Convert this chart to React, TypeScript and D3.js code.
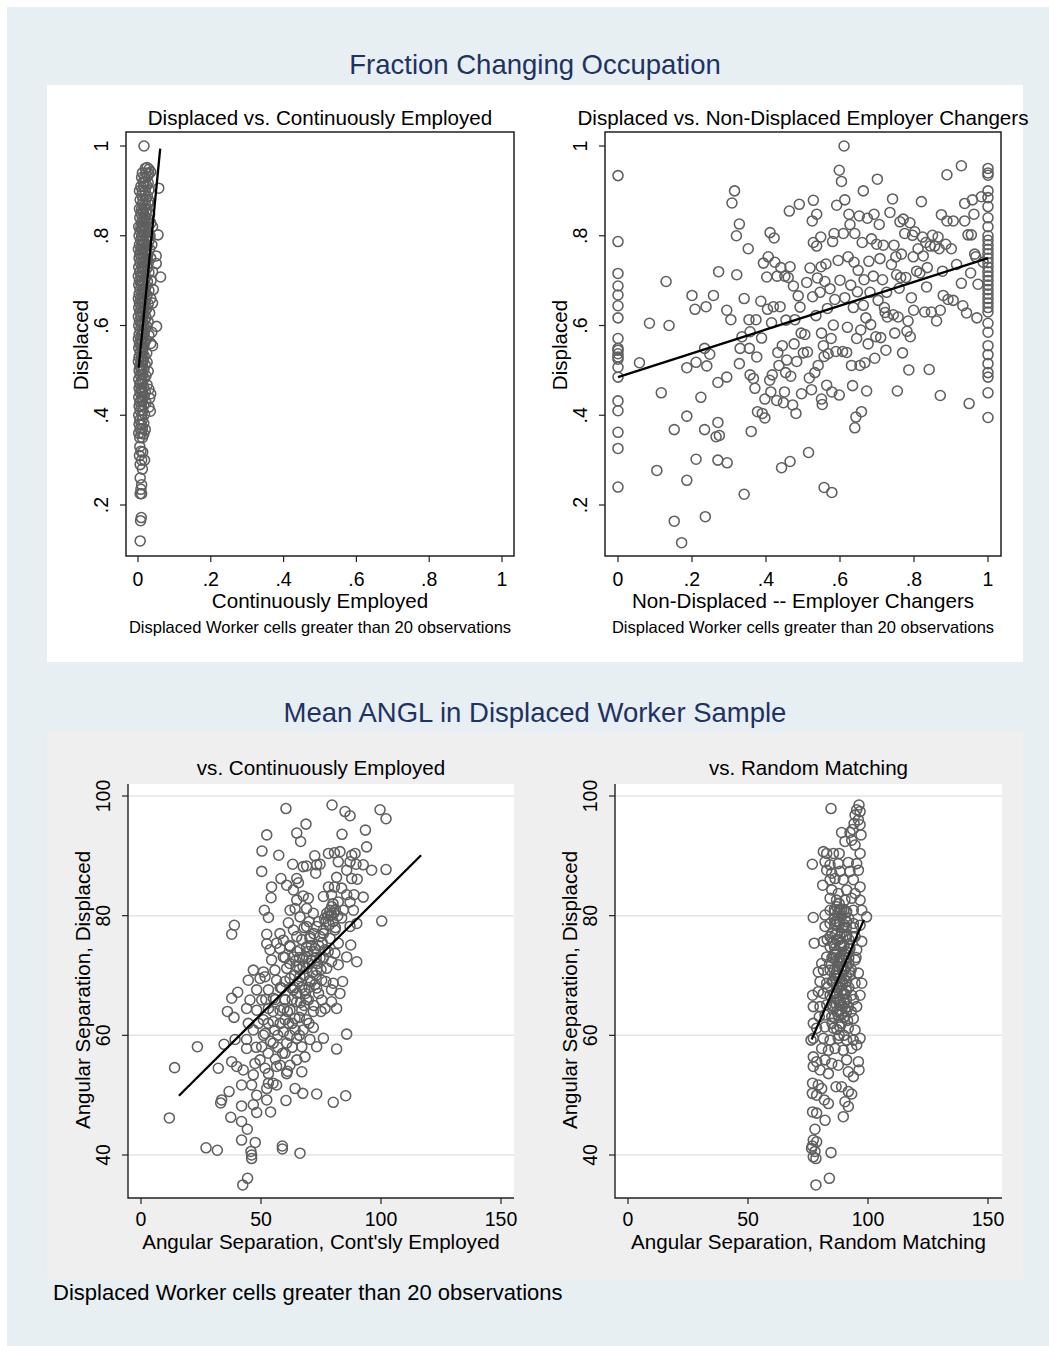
import React from 'react';
import * as d3 from 'd3';

const W = 1049;
const H = 1346;
const font = '"Liberation Sans", Arial, Helvetica, sans-serif';
const navy = '#1e3264';
const markerColor = '#5f5f5f';

// tick values / labels
const fracTicks = [0, 0.2, 0.4, 0.6, 0.8, 1];
const fracTickLabels = ['0', '.2', '.4', '.6', '.8', '1'];
const fracYTicks = [0.2, 0.4, 0.6, 0.8, 1];
const fracYTickLabels = ['.2', '.4', '.6', '.8', '1'];
const anglXTicks = [0, 50, 100, 150];
const anglYTicks = [40, 60, 80, 100];

// Displaced vs. Continuously Employed (fraction changing occupation)
const p1Points: [number, number][] = [
  [0.0165, 1.0], [0.057, 0.906],
  [0.02, 0.95], [0.025, 0.952], [0.03, 0.948],
  [0.012, 0.94], [0.022, 0.94], [0.03, 0.938], [0.035, 0.942],
  [0.01, 0.93], [0.018, 0.93], [0.026, 0.932],
  [0.015, 0.92], [0.02, 0.92], [0.028, 0.918],
  [0.008, 0.91], [0.016, 0.91], [0.024, 0.912],
  [0.004, 0.9], [0.012, 0.9], [0.02, 0.9], [0.03, 0.902],
  [0.01, 0.89], [0.018, 0.89], [0.026, 0.888],
  [0.006, 0.88], [0.014, 0.88], [0.022, 0.882], [0.03, 0.878],
  [0.012, 0.87], [0.02, 0.87], [0.028, 0.872],
  [0.004, 0.86], [0.01, 0.86], [0.018, 0.862], [0.025, 0.858],
  [0.008, 0.85], [0.015, 0.85], [0.022, 0.852], [0.032, 0.848],
  [0.005, 0.84], [0.012, 0.84], [0.02, 0.842], [0.027, 0.838],
  [0.01, 0.83], [0.017, 0.83], [0.024, 0.832], [0.035, 0.828],
  [0.002, 0.82], [0.008, 0.82], [0.015, 0.822], [0.022, 0.818], [0.04, 0.82],
  [0.006, 0.81], [0.013, 0.81], [0.02, 0.812], [0.028, 0.808],
  [0.003, 0.8], [0.01, 0.8], [0.017, 0.802], [0.024, 0.798], [0.033, 0.8], [0.055, 0.802],
  [0.007, 0.79], [0.014, 0.79], [0.021, 0.792], [0.03, 0.788],
  [0.004, 0.78], [0.011, 0.78], [0.018, 0.782], [0.026, 0.778], [0.038, 0.78],
  [0.001, 0.77], [0.008, 0.77], [0.015, 0.772], [0.022, 0.768], [0.032, 0.77],
  [0.005, 0.76], [0.012, 0.76], [0.019, 0.762], [0.027, 0.758], [0.05, 0.755],
  [0.003, 0.75], [0.009, 0.75], [0.016, 0.752], [0.024, 0.748], [0.035, 0.75],
  [0.006, 0.74], [0.013, 0.74], [0.02, 0.742], [0.028, 0.738], [0.05, 0.738],
  [0.002, 0.73], [0.01, 0.73], [0.017, 0.732], [0.025, 0.728],
  [0.005, 0.72], [0.012, 0.72], [0.019, 0.722], [0.03, 0.718], [0.04, 0.72],
  [0.001, 0.71], [0.008, 0.71], [0.015, 0.712], [0.022, 0.708], [0.062, 0.708],
  [0.004, 0.7], [0.011, 0.7], [0.018, 0.702], [0.026, 0.698], [0.036, 0.7],
  [0.002, 0.69], [0.009, 0.69], [0.016, 0.692], [0.023, 0.688],
  [0.006, 0.68], [0.013, 0.68], [0.02, 0.682], [0.03, 0.678], [0.042, 0.68],
  [0.003, 0.67], [0.01, 0.67], [0.017, 0.672], [0.025, 0.668],
  [0.001, 0.66], [0.007, 0.66], [0.014, 0.662], [0.021, 0.658], [0.035, 0.66],
  [0.004, 0.65], [0.011, 0.65], [0.018, 0.652], [0.028, 0.648], [0.04, 0.65],
  [0.002, 0.64], [0.009, 0.64], [0.016, 0.642], [0.024, 0.638],
  [0.005, 0.63], [0.012, 0.63], [0.02, 0.632], [0.032, 0.628],
  [0.001, 0.62], [0.008, 0.62], [0.015, 0.622], [0.022, 0.618],
  [0.004, 0.61], [0.011, 0.61], [0.018, 0.612], [0.028, 0.608],
  [0.002, 0.6], [0.009, 0.6], [0.016, 0.602], [0.024, 0.598], [0.051, 0.598],
  [0.006, 0.59], [0.013, 0.59], [0.02, 0.592], [0.038, 0.585],
  [0.003, 0.58], [0.01, 0.58], [0.017, 0.582], [0.03, 0.578],
  [0.001, 0.57], [0.007, 0.57], [0.014, 0.572], [0.022, 0.568],
  [0.004, 0.56], [0.011, 0.56], [0.018, 0.562], [0.035, 0.56],
  [0.002, 0.55], [0.009, 0.55], [0.016, 0.552], [0.04, 0.555],
  [0.006, 0.54], [0.013, 0.54], [0.024, 0.538],
  [0.003, 0.53], [0.01, 0.53], [0.017, 0.532],
  [0.001, 0.52], [0.008, 0.52], [0.015, 0.522], [0.025, 0.518],
  [0.005, 0.51], [0.012, 0.51], [0.02, 0.512],
  [0.003, 0.5], [0.009, 0.5], [0.016, 0.502], [0.028, 0.498],
  [0.006, 0.49], [0.013, 0.49], [0.022, 0.488],
  [0.002, 0.48], [0.01, 0.48], [0.017, 0.482],
  [0.005, 0.47], [0.012, 0.47], [0.025, 0.468],
  [0.003, 0.46], [0.009, 0.46], [0.016, 0.462], [0.03, 0.458],
  [0.006, 0.45], [0.013, 0.45], [0.02, 0.452], [0.035, 0.448],
  [0.002, 0.44], [0.01, 0.44], [0.017, 0.442], [0.032, 0.438],
  [0.005, 0.43], [0.012, 0.43], [0.022, 0.428],
  [0.003, 0.42], [0.009, 0.42], [0.016, 0.422], [0.03, 0.418],
  [0.006, 0.41], [0.013, 0.41], [0.034, 0.409],
  [0.002, 0.4], [0.01, 0.4], [0.018, 0.402],
  [0.005, 0.39], [0.012, 0.39],
  [0.003, 0.38], [0.009, 0.38], [0.016, 0.382],
  [0.006, 0.37], [0.012, 0.37], [0.02, 0.368],
  [0.002, 0.36], [0.009, 0.36], [0.016, 0.358],
  [0.005, 0.35], [0.012, 0.35],
  [0.005, 0.33], [0.008, 0.32], [0.013, 0.318], [0.004, 0.31],
  [0.01, 0.3], [0.018, 0.3], [0.006, 0.29], [0.012, 0.28],
  [0.006, 0.26], [0.01, 0.245], [0.008, 0.235], [0.006, 0.225], [0.01, 0.225],
  [0.009, 0.172], [0.007, 0.165], [0.006, 0.12],
  [0.014, 0.855], [0.019, 0.835], [0.011, 0.815], [0.016, 0.785], [0.013, 0.765],
  [0.02, 0.745], [0.014, 0.725], [0.012, 0.695], [0.019, 0.675], [0.013, 0.655],
  [0.015, 0.635], [0.012, 0.605], [0.014, 0.585], [0.01, 0.565], [0.012, 0.545],
  [0.013, 0.525], [0.009, 0.505], [0.011, 0.475], [0.009, 0.455], [0.011, 0.435],
];
const p1Fit: [number, number][] = [[0.002, 0.506], [0.061, 0.994]];

// Displaced vs. Non-Displaced Employer Changers
const p2Points: [number, number][] = [
  [0, 0.934], [0, 0.787], [0, 0.716], [0, 0.688], [0, 0.668], [0, 0.644], [0, 0.617],
  [0, 0.571], [0, 0.549], [0, 0.537], [0, 0.525], [0, 0.507], [0, 0.485], [0, 0.432],
  [0, 0.41], [0, 0.362], [0, 0.326], [0, 0.24], [0, 0.545], [0, 0.53],
  [1, 0.95], [1, 0.94], [1, 0.935], [1, 0.9], [1, 0.885], [1, 0.865], [1, 0.84], [1, 0.82],
  [1, 0.8], [1, 0.79], [1, 0.78], [1, 0.77], [1, 0.76], [1, 0.75], [1, 0.74], [1, 0.73],
  [1, 0.72], [1, 0.71], [1, 0.7], [1, 0.69], [1, 0.68], [1, 0.67], [1, 0.66], [1, 0.65],
  [1, 0.64], [1, 0.63], [1, 0.605], [1, 0.585], [1, 0.555], [1, 0.535], [1, 0.515],
  [1, 0.495], [1, 0.485], [1, 0.45], [1, 0.395],
  [0.085, 0.605], [0.058, 0.517], [0.13, 0.698], [0.138, 0.6], [0.117, 0.45], [0.105, 0.277],
  [0.152, 0.368], [0.152, 0.164], [0.172, 0.116], [0.186, 0.255], [0.186, 0.398], [0.186, 0.506],
  [0.2, 0.667], [0.208, 0.636], [0.211, 0.518], [0.211, 0.302], [0.224, 0.44], [0.234, 0.368],
  [0.236, 0.174], [0.234, 0.549], [0.24, 0.51], [0.248, 0.536], [0.238, 0.642], [0.258, 0.667],
  [0.272, 0.72], [0.27, 0.384], [0.265, 0.352], [0.274, 0.355], [0.27, 0.3], [0.27, 0.473],
  [0.294, 0.485], [0.295, 0.294], [0.294, 0.634], [0.305, 0.613], [0.315, 0.9], [0.308, 0.873],
  [0.32, 0.8], [0.328, 0.826], [0.321, 0.713], [0.328, 0.515], [0.33, 0.549], [0.335, 0.575],
  [0.341, 0.66], [0.341, 0.224], [0.352, 0.771], [0.354, 0.613], [0.357, 0.586], [0.355, 0.549],
  [0.357, 0.49], [0.36, 0.364], [0.366, 0.482], [0.37, 0.46], [0.373, 0.613], [0.375, 0.53],
  [0.377, 0.408], [0.388, 0.572], [0.386, 0.654], [0.39, 0.404], [0.393, 0.739], [0.402, 0.708],
  [0.397, 0.436], [0.397, 0.394], [0.404, 0.636], [0.406, 0.753], [0.41, 0.478], [0.411, 0.807],
  [0.413, 0.452], [0.415, 0.606], [0.417, 0.49], [0.422, 0.795], [0.42, 0.642], [0.424, 0.741],
  [0.429, 0.433], [0.43, 0.71], [0.432, 0.54], [0.435, 0.511], [0.438, 0.642], [0.44, 0.729],
  [0.442, 0.283], [0.444, 0.555], [0.447, 0.428], [0.45, 0.452], [0.451, 0.71], [0.453, 0.495],
  [0.454, 0.612], [0.456, 0.523], [0.46, 0.707], [0.463, 0.855], [0.465, 0.297], [0.465, 0.731],
  [0.467, 0.487], [0.472, 0.423], [0.474, 0.688], [0.476, 0.559], [0.478, 0.613], [0.481, 0.404],
  [0.483, 0.52], [0.487, 0.666], [0.49, 0.87], [0.492, 0.641], [0.495, 0.583], [0.496, 0.448],
  [0.501, 0.539], [0.505, 0.58], [0.51, 0.696], [0.512, 0.541], [0.515, 0.317], [0.517, 0.483],
  [0.519, 0.728], [0.523, 0.457], [0.525, 0.833], [0.528, 0.879], [0.526, 0.664], [0.528, 0.785],
  [0.532, 0.495], [0.535, 0.622], [0.537, 0.848], [0.537, 0.777], [0.539, 0.706], [0.541, 0.511],
  [0.546, 0.674], [0.548, 0.797], [0.549, 0.731], [0.55, 0.436], [0.55, 0.583], [0.552, 0.424],
  [0.555, 0.555], [0.557, 0.531], [0.557, 0.239], [0.559, 0.698], [0.562, 0.737], [0.564, 0.467],
  [0.566, 0.638], [0.568, 0.537], [0.573, 0.682], [0.576, 0.571], [0.578, 0.228], [0.578, 0.452],
  [0.58, 0.787], [0.582, 0.601], [0.584, 0.805], [0.586, 0.658], [0.589, 0.542], [0.591, 0.868],
  [0.595, 0.745], [0.598, 0.445], [0.598, 0.946], [0.6, 0.701], [0.604, 0.921], [0.607, 0.542],
  [0.609, 0.805], [0.611, 1.0], [0.613, 0.88], [0.613, 0.662], [0.618, 0.54], [0.62, 0.596],
  [0.622, 0.753], [0.624, 0.848], [0.627, 0.825], [0.629, 0.69], [0.631, 0.511], [0.634, 0.466],
  [0.636, 0.64], [0.638, 0.741], [0.64, 0.372], [0.64, 0.805], [0.643, 0.396], [0.645, 0.571],
  [0.647, 0.675], [0.649, 0.723], [0.652, 0.844], [0.654, 0.511], [0.656, 0.59], [0.658, 0.408],
  [0.66, 0.785], [0.663, 0.9], [0.663, 0.645], [0.665, 0.702], [0.667, 0.517], [0.67, 0.617],
  [0.672, 0.454], [0.674, 0.839], [0.676, 0.559], [0.678, 0.743], [0.681, 0.674], [0.683, 0.602],
  [0.685, 0.793], [0.69, 0.71], [0.692, 0.848], [0.694, 0.527], [0.697, 0.575], [0.699, 0.781],
  [0.701, 0.926], [0.703, 0.656], [0.706, 0.825], [0.708, 0.749], [0.71, 0.573], [0.715, 0.702],
  [0.717, 0.779], [0.72, 0.64], [0.722, 0.629], [0.724, 0.545], [0.726, 0.674], [0.728, 0.619],
  [0.735, 0.852], [0.739, 0.736], [0.742, 0.882], [0.744, 0.624], [0.746, 0.779], [0.748, 0.583],
  [0.751, 0.753], [0.753, 0.713], [0.755, 0.454], [0.757, 0.619], [0.76, 0.683], [0.762, 0.831],
  [0.764, 0.707], [0.766, 0.759], [0.769, 0.539], [0.771, 0.837], [0.775, 0.805], [0.778, 0.707],
  [0.781, 0.587], [0.784, 0.61], [0.786, 0.501], [0.789, 0.829], [0.79, 0.575], [0.793, 0.662],
  [0.796, 0.801], [0.798, 0.753], [0.799, 0.634], [0.802, 0.809], [0.807, 0.721], [0.811, 0.771],
  [0.816, 0.717], [0.82, 0.876], [0.823, 0.797], [0.825, 0.755], [0.829, 0.63], [0.832, 0.785],
  [0.834, 0.686], [0.836, 0.729], [0.841, 0.502], [0.844, 0.777], [0.847, 0.63], [0.85, 0.801],
  [0.856, 0.777], [0.861, 0.61], [0.865, 0.797], [0.868, 0.771], [0.871, 0.444], [0.871, 0.634],
  [0.874, 0.847], [0.877, 0.721], [0.879, 0.667], [0.886, 0.781], [0.889, 0.936], [0.892, 0.658],
  [0.889, 0.833], [0.901, 0.771], [0.906, 0.833], [0.906, 0.656], [0.915, 0.736], [0.928, 0.956],
  [0.928, 0.694], [0.932, 0.644], [0.937, 0.872], [0.937, 0.833], [0.942, 0.628], [0.946, 0.802],
  [0.949, 0.426], [0.953, 0.717], [0.955, 0.802], [0.958, 0.88], [0.962, 0.848], [0.964, 0.759],
  [0.967, 0.753], [0.97, 0.617], [0.973, 0.692], [0.982, 0.887], [0.987, 0.741],
];
const p2Fit: [number, number][] = [[0, 0.485], [1, 0.75]];

// Mean ANGL vs. Continuously Employed
const p3Points: [number, number][] = [
  [60.4, 97.9], [79.6, 98.5], [85.0, 97.4], [87.1, 96.7], [99.6, 97.7], [102.1, 96.2],
  [68.75, 95.3], [64.9, 93.8], [66.5, 92.4], [52.4, 93.5], [83.75, 93.6], [93.5, 94.3],
  [94.0, 91.5], [50.4, 90.8], [57.4, 90.1], [72.4, 90.0], [78.1, 90.4], [80.6, 90.5],
  [82.9, 90.7], [87.8, 90.1], [89.2, 90.4], [63.2, 88.6], [67.6, 88.2], [69.0, 88.3],
  [73.2, 88.5], [74.6, 88.6], [82.2, 89.0], [87.1, 89.0], [89.6, 88.6], [92.6, 88.5],
  [96.1, 87.6], [102.1, 87.7], [50.3, 87.4], [72.8, 87.1], [85.7, 87.6], [58.3, 86.2],
  [64.9, 86.2], [65.6, 85.5], [81.5, 86.4], [87.8, 86.2], [90.1, 86.1], [60.7, 85.1],
  [54.4, 84.8], [78.1, 84.8], [80.6, 84.8], [83.6, 84.6], [63.5, 84.3], [67.6, 83.3],
  [76.0, 83.2], [79.4, 83.5], [85.7, 83.5], [88.75, 83.5], [92.6, 83.1], [54.2, 83.0],
  [64.9, 82.6], [69.75, 82.9], [82.2, 82.3], [87.1, 82.3], [51.4, 80.9], [53.1, 79.7],
  [62.1, 80.9], [64.2, 81.2], [69.0, 81.2], [78.75, 80.9], [77.4, 80.4], [79.4, 80.1],
  [84.3, 80.9], [88.5, 80.9], [66.25, 79.8], [71.8, 80.4], [83.6, 79.6], [89.9, 78.7],
  [100.3, 79.1], [38.9, 78.4], [37.8, 76.9], [52.4, 76.9], [61.4, 78.8], [57.9, 77.0],
  [63.5, 77.6], [69.0, 78.2], [73.2, 78.2], [76.0, 77.6], [80.8, 77.6], [87.1, 78.2],
  [52.4, 75.3], [56.5, 75.4], [59.3, 75.9], [64.9, 76.5], [70.4, 76.2], [74.6, 76.5],
  [78.75, 76.2], [82.2, 75.4], [87.4, 75.1], [53.75, 74.3], [57.9, 74.5], [62.1, 74.8],
  [66.25, 74.3], [69.0, 74.8], [72.5, 74.5], [76.7, 74.3], [80.8, 73.7], [85.7, 73.1],
  [89.9, 72.3], [54.4, 72.6], [59.3, 73.1], [63.5, 73.1], [67.6, 72.9], [71.1, 72.6],
  [74.6, 72.9], [79.4, 72.3], [82.2, 71.8], [46.8, 70.9], [51.0, 70.6], [55.8, 70.9],
  [60.7, 71.2], [64.9, 71.5], [69.0, 71.2], [73.2, 70.9], [77.4, 71.2], [44.7, 69.2],
  [49.6, 69.5], [51.7, 69.8], [56.5, 69.2], [62.1, 69.5], [66.25, 69.8], [70.4, 69.2],
  [75.3, 69.2], [80.1, 68.7], [84.0, 69.0], [48.2, 67.6], [53.1, 67.6], [58.6, 67.9],
  [63.5, 67.6], [68.3, 67.6], [73.2, 67.9], [79.4, 67.6], [82.9, 67.0], [40.3, 67.2],
  [37.8, 66.2], [45.4, 65.9], [50.3, 65.9], [55.1, 66.2], [60.0, 65.9], [64.9, 65.6],
  [69.75, 65.9], [75.3, 65.9], [79.4, 65.6], [44.0, 64.5], [48.2, 64.2], [53.1, 64.5],
  [57.9, 64.2], [62.1, 64.2], [67.0, 64.2], [71.8, 64.0], [76.7, 64.5], [81.5, 64.5],
  [36.0, 64.0], [38.75, 63.0], [44.7, 62.0], [51.0, 62.6], [55.1, 62.3], [60.0, 62.6],
  [64.2, 62.8], [69.0, 62.6], [71.8, 61.3], [85.7, 60.2], [46.8, 60.9], [51.7, 60.3],
  [55.8, 60.9], [59.3, 60.6], [64.2, 60.9], [67.6, 60.9], [76.0, 59.5], [23.5, 58.1],
  [34.6, 58.5], [39.2, 59.3], [44.0, 59.3], [50.3, 58.1], [55.1, 58.7], [60.7, 58.7],
  [64.9, 59.5], [67.0, 58.1], [70.4, 59.3], [73.2, 58.1], [81.5, 57.7], [44.0, 57.8],
  [14.0, 54.6], [32.2, 54.5], [37.8, 55.6], [39.9, 54.8], [42.6, 54.2], [47.5, 55.3],
  [49.6, 55.9], [51.7, 54.5], [53.1, 53.6], [56.5, 54.8], [60.0, 57.0], [60.7, 53.6],
  [62.1, 55.0], [64.9, 55.9], [68.3, 56.4], [67.0, 53.9], [46.8, 53.4], [41.9, 51.7],
  [46.1, 51.7], [53.1, 52.0], [56.5, 51.7], [52.4, 51.1], [36.7, 50.6], [33.6, 49.2],
  [33.2, 48.7], [48.2, 50.0], [64.2, 51.1], [67.4, 50.3], [73.2, 50.2], [85.3, 49.9],
  [80.1, 48.8], [41.9, 48.2], [46.8, 48.4], [52.4, 49.2], [60.4, 49.1], [48.2, 47.1],
  [54.0, 47.2], [11.8, 46.2], [37.4, 46.3], [41.9, 45.6], [44.3, 44.3], [41.9, 42.5],
  [47.6, 42.1], [27.1, 41.2], [31.8, 40.8], [45.8, 40.6], [46.1, 40.0], [46.1, 39.4],
  [58.9, 41.5], [58.9, 41.0], [66.25, 40.3], [44.4, 36.1], [42.4, 35.0],
  [62, 72], [66, 73], [68, 70], [70, 72], [72, 74], [74, 75], [67, 76], [64, 70], [70, 68],
  [73, 70], [76, 73], [78, 74], [65, 67], [69, 66], [71, 69], [75, 71], [60, 69], [63, 66],
  [66, 63], [68, 65], [61, 64], [58, 62], [62, 60], [57, 60], [59, 57], [56, 56], [54, 59],
  [63, 58], [80, 79], [79, 80], [81, 81], [78, 80], [82, 80], [80, 82], [77, 79], [81, 78],
  [68, 78], [70, 79], [72, 77], [74, 79], [76, 77], [71, 75], [73, 73], [65, 74], [60, 73],
  [62, 75], [66, 71], [69, 73], [58, 68], [56, 66], [52, 66], [55, 64], [60, 66], [64, 68],
  [67, 68], [74, 67], [77, 69], [72, 65], [75, 64], [70, 62], [66, 60], [63, 62], [57, 58],
  [53, 57], [55, 52], [58, 55], [61, 54], [49, 62], [51, 60], [48, 58], [53, 62],
  [67.5, 71.5], [69.5, 74], [71.5, 70.5], [73.5, 72], [65.5, 69], [68.5, 67], [72.5, 68.5],
  [75.5, 75.5], [70.5, 76.5], [66.5, 65.5], [62.5, 68], [64.5, 72.5], [61.5, 62], [59.5, 64.5],
  [79.5, 81.5], [80.5, 80.5], [78.5, 78.5], [76.5, 79.5],
];
const p3Fit: [number, number][] = [[15.8, 49.9], [116.7, 90.1]];

// Mean ANGL vs. Random Matching
const p4Points: [number, number][] = [
  [84.6, 97.9], [96.25, 98.5], [95.3, 97.7], [96.7, 97.4], [94.6, 96.8], [96.0, 96.0],
  [94.2, 95.4], [96.7, 95.2], [93.6, 94.4], [89.0, 93.9], [92.5, 93.9], [97.1, 93.5],
  [90.4, 92.4], [93.2, 92.6], [94.6, 91.8], [81.4, 90.7], [82.8, 90.4], [85.6, 90.4],
  [88.0, 90.4], [96.7, 90.4], [76.8, 88.6], [82.1, 89.0], [84.2, 88.5], [87.6, 88.7],
  [91.8, 88.9], [95.3, 88.7], [82.8, 87.6], [84.9, 87.1], [88.3, 87.4], [92.5, 87.4],
  [96.0, 87.6], [81.1, 85.1], [84.2, 86.0], [86.25, 86.2], [89.7, 86.0], [93.9, 86.0],
  [96.7, 84.8], [84.9, 84.3], [87.6, 83.7], [91.1, 84.3], [94.6, 83.7], [84.2, 82.9],
  [86.9, 82.6], [90.4, 82.6], [93.2, 82.9], [96.7, 82.6], [77.2, 79.7], [82.1, 80.1],
  [84.2, 80.9], [86.25, 80.7], [88.3, 80.9], [91.1, 80.7], [93.9, 80.9], [97.4, 80.9],
  [99.4, 79.8], [82.1, 78.2], [84.2, 78.7], [86.25, 79.0], [88.3, 78.7], [91.1, 79.0],
  [93.9, 78.7], [96.7, 78.4], [77.6, 75.4], [81.4, 75.7], [84.2, 76.5], [86.25, 76.8],
  [88.3, 76.5], [91.1, 76.8], [94.6, 76.5], [97.4, 75.7], [84.2, 74.8], [86.25, 74.5],
  [89.0, 74.8], [91.8, 74.5], [95.3, 74.3], [80.7, 72.0], [82.8, 73.1], [85.6, 72.9],
  [88.3, 72.6], [91.1, 72.9], [94.6, 72.6], [79.3, 70.6], [81.4, 70.9], [84.2, 70.9],
  [86.9, 70.6], [89.7, 70.9], [92.5, 70.6], [96.0, 70.4], [80.0, 69.0], [82.8, 68.7],
  [85.6, 69.0], [88.3, 68.7], [91.1, 69.0], [94.6, 68.7], [97.4, 68.7], [76.9, 66.7],
  [79.3, 67.3], [81.4, 67.0], [84.2, 66.7], [86.9, 67.0], [90.4, 66.9], [93.2, 66.7],
  [96.7, 66.7], [77.2, 64.8], [80.0, 64.8], [82.8, 65.1], [85.6, 64.8], [88.3, 65.1],
  [91.8, 64.8], [95.3, 64.8], [79.7, 63.1], [82.1, 63.4], [84.9, 63.1], [87.6, 63.4],
  [90.4, 63.1], [93.9, 62.8], [77.2, 62.0], [78.6, 61.2], [82.1, 61.4], [85.6, 61.2],
  [88.3, 61.4], [91.8, 61.2], [94.6, 60.9], [76.25, 59.2], [77.2, 59.5], [81.4, 59.5],
  [84.2, 59.2], [87.6, 59.5], [91.1, 59.2], [93.9, 59.2], [96.7, 59.5], [80.7, 57.8],
  [83.5, 57.5], [86.25, 57.8], [89.7, 57.5], [93.2, 57.8], [95.3, 58.4], [77.2, 56.4],
  [78.6, 55.6], [82.1, 55.9], [84.9, 55.3], [87.6, 55.0], [91.1, 55.9], [96.0, 55.6],
  [77.2, 54.8], [80.0, 54.2], [83.5, 53.6], [91.8, 53.9], [93.9, 53.1], [96.25, 54.2],
  [76.9, 52.0], [79.3, 51.7], [80.7, 51.1], [86.7, 51.4], [89.0, 51.4], [91.8, 50.6],
  [93.2, 50.2], [76.8, 50.3], [78.6, 50.0], [81.8, 49.2], [83.5, 48.6], [90.4, 48.9],
  [91.8, 48.1], [76.9, 47.2], [78.6, 47.0], [82.1, 45.8], [89.7, 46.4], [77.9, 44.3],
  [77.2, 42.5], [78.6, 42.2], [76.5, 41.1], [77.9, 40.6], [77.2, 39.7], [78.3, 39.4],
  [84.6, 40.4], [83.9, 36.1], [78.3, 35.0], [76.8, 41.5],
  [86, 81], [88, 82], [90, 81], [87, 79], [89, 80], [91, 79], [85, 77], [87, 77], [89, 77],
  [91, 78], [86, 75], [88, 76], [90, 75], [92, 76], [85, 73], [87, 74], [89, 73], [91, 74],
  [86, 71], [88, 72], [90, 71], [92, 72], [85, 69], [87, 70], [89, 69], [91, 70], [86, 67],
  [88, 68], [90, 67], [92, 68], [85, 65], [87, 66], [89, 65], [91, 66], [86, 63], [88, 64],
  [90, 63], [87, 61], [89, 62], [85, 62], [88, 60], [90, 60], [93, 64], [93, 71], [94, 78],
  [84, 72], [83, 68], [83, 76], [95, 73], [94, 66],
  [87.5, 80.5], [89.5, 78], [88.5, 75], [90.5, 73.5], [87.5, 71.5], [89.5, 68.5], [88.5, 66],
  [90.5, 64.5], [86.5, 78.5], [92.5, 74.5], [86.5, 69.5], [91.5, 62.5],
  [87, 81.5], [89, 81], [91, 80.5], [86, 79.5], [88, 79], [90, 78.5], [92, 79.5], [87, 76],
  [89, 75.5], [91, 76.5], [86, 73.5], [88, 73], [90, 72.5], [92, 73], [87, 72.5], [89, 71.5],
  [91, 71.5], [86, 70], [88, 69.5], [90, 69.5], [87, 68], [89, 67.5], [91, 67.5], [86, 65.5],
  [88, 65.5], [90, 65.5], [87, 64], [89, 63.5], [91, 64], [85.5, 75.5], [92.5, 70], [93.5, 76.5],
];
const p4Fit: [number, number][] = [[76.5, 59.3], [98.3, 79.3]];

type PanelProps = {
  box: { x0: number; x1: number; y0: number; y1: number };
  x: d3.ScaleLinear<number, number>;
  y: d3.ScaleLinear<number, number>;
  xTicks: number[];
  xLabels: string[];
  yTicks: number[];
  yLabels: string[];
  points: [number, number][];
  fit: [number, number][];
  title: string;
  titleY: number;
  xTitle: string;
  yTitle: string;
  yTitleY: number;
  framed: boolean;
  grid: boolean;
  tickLabelY: number;
  xTitleY: number;
  note?: string;
};

const Panel = (p: PanelProps) => {
  const { box, x, y } = p;
  const cx = (box.x0 + box.x1) / 2;
  const line = d3.line<[number, number]>().x(d => x(d[0])).y(d => y(d[1]));
  const yLabelX = box.x0 - 18;
  return (
    <g>
      {p.grid && <rect x={box.x0} y={box.y0} width={box.x1 - box.x0} height={box.y1 - box.y0} fill="white" />}
      {p.grid && p.yTicks.map(t => (
        <line key={'g' + t} x1={box.x0} x2={box.x1} y1={y(t)} y2={y(t)} stroke="#e4e4e4" strokeWidth={1.5} />
      ))}
      {p.points.map((d, i) => (
        <circle key={i} cx={x(d[0])} cy={y(d[1])} r={5} fill="none" stroke={markerColor} strokeWidth={1.55} />
      ))}
      <path d={line(p.fit) || ''} stroke="black" strokeWidth={2.3} fill="none" />
      {p.framed ? (
        <rect x={box.x0} y={box.y0} width={box.x1 - box.x0} height={box.y1 - box.y0} fill="none" stroke="#111" strokeWidth={1.4} />
      ) : (
        <path d={`M${box.x0},${box.y0}V${box.y1}H${box.x1}`} fill="none" stroke="#222" strokeWidth={1.4} />
      )}
      {p.xTicks.map((t, i) => (
        <g key={'x' + t}>
          <line x1={x(t)} x2={x(t)} y1={box.y1} y2={box.y1 + 6} stroke="#222" strokeWidth={1.2} />
          <text x={x(t)} y={p.tickLabelY} textAnchor="middle" fontSize={19.5}>{p.xLabels[i]}</text>
        </g>
      ))}
      {p.yTicks.map((t, i) => (
        <g key={'y' + t}>
          <line x1={box.x0 - 6} x2={box.x0} y1={y(t)} y2={y(t)} stroke="#222" strokeWidth={1.2} />
          <text transform={`translate(${yLabelX},${y(t)}) rotate(-90)`} textAnchor="middle" fontSize={19.5}>{p.yLabels[i]}</text>
        </g>
      ))}
      <text x={cx} y={p.titleY} textAnchor="middle" fontSize={20.6}>{p.title}</text>
      <text x={cx} y={p.xTitleY} textAnchor="middle" fontSize={20.6}>{p.xTitle}</text>
      <text transform={`translate(${box.x0 - 38},${p.yTitleY}) rotate(-90)`} textAnchor="middle" fontSize={20.6}>{p.yTitle}</text>
      {p.note && <text x={cx} y={p.xTitleY + 25} textAnchor="middle" fontSize={16.5}>{p.note}</text>}
    </g>
  );
};

const App = () => {
  const x1 = d3.scaleLinear().domain([0, 1]).range([138, 502]);
  const x2 = d3.scaleLinear().domain([0, 1]).range([618, 988]);
  const yFrac = d3.scaleLinear().domain([0.2, 1]).range([505, 146]);
  const x3 = d3.scaleLinear().domain([0, 150]).range([141, 501]);
  const x4 = d3.scaleLinear().domain([0, 150]).range([628, 988]);
  const yAngl = d3.scaleLinear().domain([40, 100]).range([1155, 796]);
  const anglLabels = anglXTicks.map(String);
  const anglYLabels = anglYTicks.map(String);

  return (
    <svg width={W} height={H} style={{ position: 'absolute', left: 0, top: 0 }} fontFamily={font}>
      <rect x={0} y={0} width={W} height={H} fill="white" />
      <rect x={7} y={7} width={W - 7} height={H - 7} fill="#e8eff2" />
      <text x={535} y={74} textAnchor="middle" fontSize={27.5} fill={navy}>Fraction Changing Occupation</text>
      <rect x={47} y={85} width={976} height={577} fill="white" />
      <Panel box={{ x0: 126, x1: 514, y0: 132, y1: 556 }} x={x1} y={yFrac}
        xTicks={fracTicks} xLabels={fracTickLabels} yTicks={fracYTicks} yLabels={fracYTickLabels}
        points={p1Points} fit={p1Fit} title="Displaced vs. Continuously Employed" titleY={125}
        xTitle="Continuously Employed" yTitle="Displaced" yTitleY={345} framed grid={false}
        tickLabelY={586} xTitleY={608} note="Displaced Worker cells greater than 20 observations" />
      <Panel box={{ x0: 605, x1: 1001, y0: 132, y1: 556 }} x={x2} y={yFrac}
        xTicks={fracTicks} xLabels={fracTickLabels} yTicks={fracYTicks} yLabels={fracYTickLabels}
        points={p2Points} fit={p2Fit} title="Displaced vs. Non-Displaced Employer Changers" titleY={125}
        xTitle="Non-Displaced -- Employer Changers" yTitle="Displaced" yTitleY={345} framed grid={false}
        tickLabelY={586} xTitleY={608} note="Displaced Worker cells greater than 20 observations" />

      <text x={535} y={722} textAnchor="middle" fontSize={27.5} fill={navy}>Mean ANGL in Displaced Worker Sample</text>
      <rect x={47} y={733} width={976} height={546} fill="#efefef" />
      <Panel box={{ x0: 128, x1: 514, y0: 784, y1: 1198 }} x={x3} y={yAngl}
        xTicks={anglXTicks} xLabels={anglLabels} yTicks={anglYTicks} yLabels={anglYLabels}
        points={p3Points} fit={p3Fit} title="vs. Continuously Employed" titleY={775}
        xTitle="Angular Separation, Cont'sly Employed" yTitle="Angular Separation, Displaced" yTitleY={990}
        framed={false} grid tickLabelY={1226} xTitleY={1249} />
      <Panel box={{ x0: 615, x1: 1002, y0: 784, y1: 1198 }} x={x4} y={yAngl}
        xTicks={anglXTicks} xLabels={anglLabels} yTicks={anglYTicks} yLabels={anglYLabels}
        points={p4Points} fit={p4Fit} title="vs. Random Matching" titleY={775}
        xTitle="Angular Separation, Random Matching" yTitle="Angular Separation, Displaced" yTitleY={990}
        framed={false} grid tickLabelY={1226} xTitleY={1249} />
      <text x={53} y={1300} fontSize={22}>Displaced Worker cells greater than 20 observations</text>
    </svg>
  );
};

export default App;
